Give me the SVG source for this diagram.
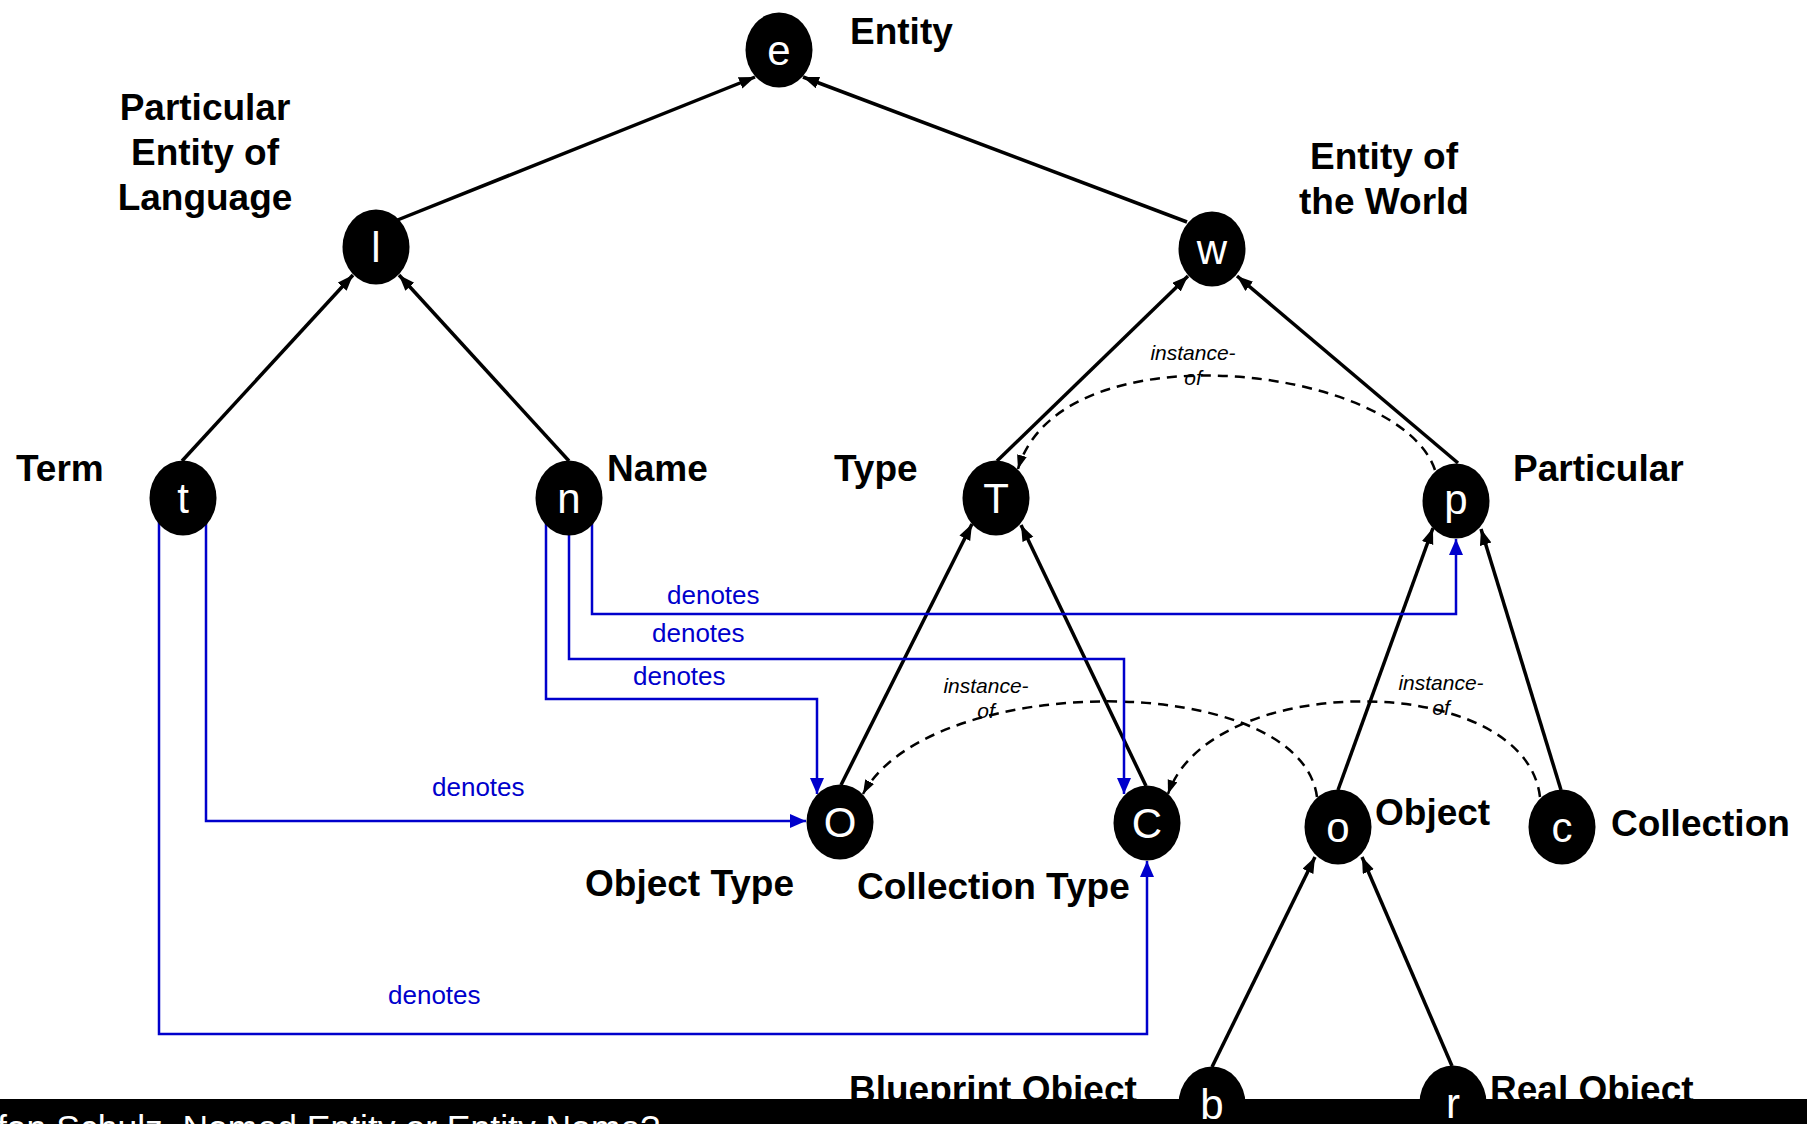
<svg xmlns="http://www.w3.org/2000/svg" width="1807" height="1124" viewBox="0 0 1807 1124">
  <defs>
    <marker id="arrowBlack" markerUnits="userSpaceOnUse" markerWidth="18" markerHeight="14" refX="16" refY="6" orient="auto">
      <path d="M0,0 L16,6 L0,12 z" fill="#000"/>
    </marker>
    <marker id="arrowDash" markerUnits="userSpaceOnUse" markerWidth="16" markerHeight="12" refX="14" refY="5" orient="auto">
      <path d="M0,0 L14,5 L0,10 z" fill="#000"/>
    </marker>
    <marker id="arrowBlue" markerUnits="userSpaceOnUse" markerWidth="18" markerHeight="16" refX="16" refY="7" orient="auto">
      <path d="M0,0 L16,7 L0,14 z" fill="#0000cc"/>
    </marker>
    <clipPath id="aboveBar">
      <rect x="0" y="0" width="1807" height="1099"/>
    </clipPath>
  </defs>
  <style>
    .node ellipse { fill: #000; }
    .letter { fill: #fff; font-family: "Liberation Sans", Arial, sans-serif; font-size: 42px; text-anchor: middle; }
    .label { fill: #000; font-family: "Liberation Sans", Arial, sans-serif; font-size: 37px; font-weight: bold; }
    .mid { text-anchor: middle; }
    .isa { fill: none; stroke: #000; stroke-width: 3.5; marker-end: url(#arrowBlack); }
    .inst { fill: none; stroke: #000; stroke-width: 2.5; stroke-dasharray: 10 7; marker-end: url(#arrowDash); }
    .den { fill: none; stroke: #0000cc; stroke-width: 2.5; marker-end: url(#arrowBlue); }
    .denlabel { fill: #0000cc; font-family: "Liberation Sans", Arial, sans-serif; font-size: 26px; }
    .instlabel { fill: #000; font-family: "Liberation Sans", Arial, sans-serif; font-size: 21px; font-style: italic; text-anchor: middle; }
    .footer { fill: #fff; font-family: "Liberation Sans", Arial, sans-serif; font-size: 35.5px; }
  </style>
  <rect width="1807" height="1124" fill="#fff"/>

  <!-- footer bar -->
  <g id="footer">
    <rect x="0" y="1099" width="1807" height="25" fill="#000"/>
    <text class="footer" x="-3" y="1140">fan Schulz, Named Entity or Entity Name?</text>
  </g>

  <!-- connectors -->
  <g id="connectors">
    <path class="isa" d="M395,221 L755,77"/>
    <path class="isa" d="M1187,222 L803,77"/>
    <path class="isa" d="M182,461 L353,275"/>
    <path class="isa" d="M569,461 L399,275"/>
    <path class="isa" d="M997,461 L1188,276"/>
    <path class="isa" d="M1458,463 L1237,276"/>
    <path class="isa" d="M841,785 L972,524"/>
    <path class="isa" d="M1146,786 L1021,525"/>
    <path class="isa" d="M1338,790 L1433,528"/>
    <path class="isa" d="M1561,790 L1481,529"/>
    <path class="isa" d="M1212,1067 L1315,857"/>
    <path class="isa" d="M1452,1066 L1362,857"/>

    <path class="inst" d="M1435,470 C1400,365 1060,325 1018,469"/>
    <path class="inst" d="M1317,797 C1300,670 930,670 863,794"/>
    <path class="inst" d="M1540,797 C1525,670 1210,670 1168,794"/>
    <text class="instlabel" x="1193" y="360">instance-</text>
    <text class="instlabel" x="1193" y="385">of</text>
    <text class="instlabel" x="986" y="693">instance-</text>
    <text class="instlabel" x="986" y="718">of</text>
    <text class="instlabel" x="1441" y="690">instance-</text>
    <text class="instlabel" x="1441" y="715">of</text>

    <path class="den" d="M592,515 V614 H1456 V539"/>
    <path class="den" d="M569,515 V659 H1124 V794"/>
    <path class="den" d="M546,515 V699 H817 V794"/>
    <path class="den" d="M206,515 V821 H806"/>
    <path class="den" d="M159,515 V1034 H1147 V861"/>
    <text class="denlabel" x="667" y="604">denotes</text>
    <text class="denlabel" x="652" y="642">denotes</text>
    <text class="denlabel" x="633" y="685">denotes</text>
    <text class="denlabel" x="432" y="796">denotes</text>
    <text class="denlabel" x="388" y="1004">denotes</text>
  </g>

  <!-- nodes -->
  <g id="node-e" class="node">
    <ellipse cx="779" cy="50" rx="33.5" ry="37.5"/>
    <text class="letter" x="779" y="65">e</text>
    <text class="label" x="850" y="44">Entity</text>
  </g>
  <g id="node-l" class="node">
    <ellipse cx="376" cy="247" rx="33.5" ry="37.5"/>
    <text class="letter" x="376" y="262">l</text>
    <text class="label mid" x="205" y="120">Particular</text>
    <text class="label mid" x="205" y="165">Entity of</text>
    <text class="label mid" x="205" y="210">Language</text>
  </g>
  <g id="node-w" class="node">
    <ellipse cx="1212" cy="249" rx="33.5" ry="37.5"/>
    <text class="letter" x="1212" y="264">w</text>
    <text class="label mid" x="1384" y="169">Entity of</text>
    <text class="label mid" x="1384" y="214">the World</text>
  </g>
  <g id="node-t" class="node">
    <ellipse cx="183" cy="498" rx="33.5" ry="37.5"/>
    <text class="letter" x="183" y="513">t</text>
    <text class="label" x="16" y="481">Term</text>
  </g>
  <g id="node-n" class="node">
    <ellipse cx="569" cy="498" rx="33.5" ry="37.5"/>
    <text class="letter" x="569" y="513">n</text>
    <text class="label" x="607" y="481">Name</text>
  </g>
  <g id="node-T" class="node">
    <ellipse cx="996" cy="498" rx="33.5" ry="37.5"/>
    <text class="letter" x="996" y="513">T</text>
    <text class="label" x="834" y="481">Type</text>
  </g>
  <g id="node-p" class="node">
    <ellipse cx="1456" cy="501" rx="33.5" ry="37.5"/>
    <text class="letter" x="1456" y="514">p</text>
    <text class="label" x="1513" y="481">Particular</text>
  </g>
  <g id="node-O" class="node">
    <ellipse cx="840" cy="822" rx="33.5" ry="37.5"/>
    <text class="letter" x="840" y="837">O</text>
    <text class="label" x="585" y="896">Object Type</text>
  </g>
  <g id="node-C" class="node">
    <ellipse cx="1147" cy="823" rx="33.5" ry="37.5"/>
    <text class="letter" x="1147" y="838">C</text>
    <text class="label" x="857" y="899">Collection Type</text>
  </g>
  <g id="node-o" class="node">
    <ellipse cx="1338" cy="827" rx="33.5" ry="37.5"/>
    <text class="letter" x="1338" y="842">o</text>
    <text class="label" x="1375" y="825">Object</text>
  </g>
  <g id="node-c" class="node">
    <ellipse cx="1562" cy="827" rx="33.5" ry="37.5"/>
    <text class="letter" x="1562" y="842">c</text>
    <text class="label" x="1611" y="836">Collection</text>
  </g>
  <g id="node-b" class="node">
    <ellipse cx="1212" cy="1104" rx="33.5" ry="37.5"/>
    <text class="letter" x="1212" y="1119">b</text>
    <text class="label" x="849" y="1102" clip-path="url(#aboveBar)">Blueprint Object</text>
  </g>
  <g id="node-r" class="node">
    <ellipse cx="1453" cy="1103" rx="33.5" ry="37.5"/>
    <text class="letter" x="1453" y="1118">r</text>
    <text class="label" x="1490" y="1102" clip-path="url(#aboveBar)">Real Object</text>
  </g>
</svg>
